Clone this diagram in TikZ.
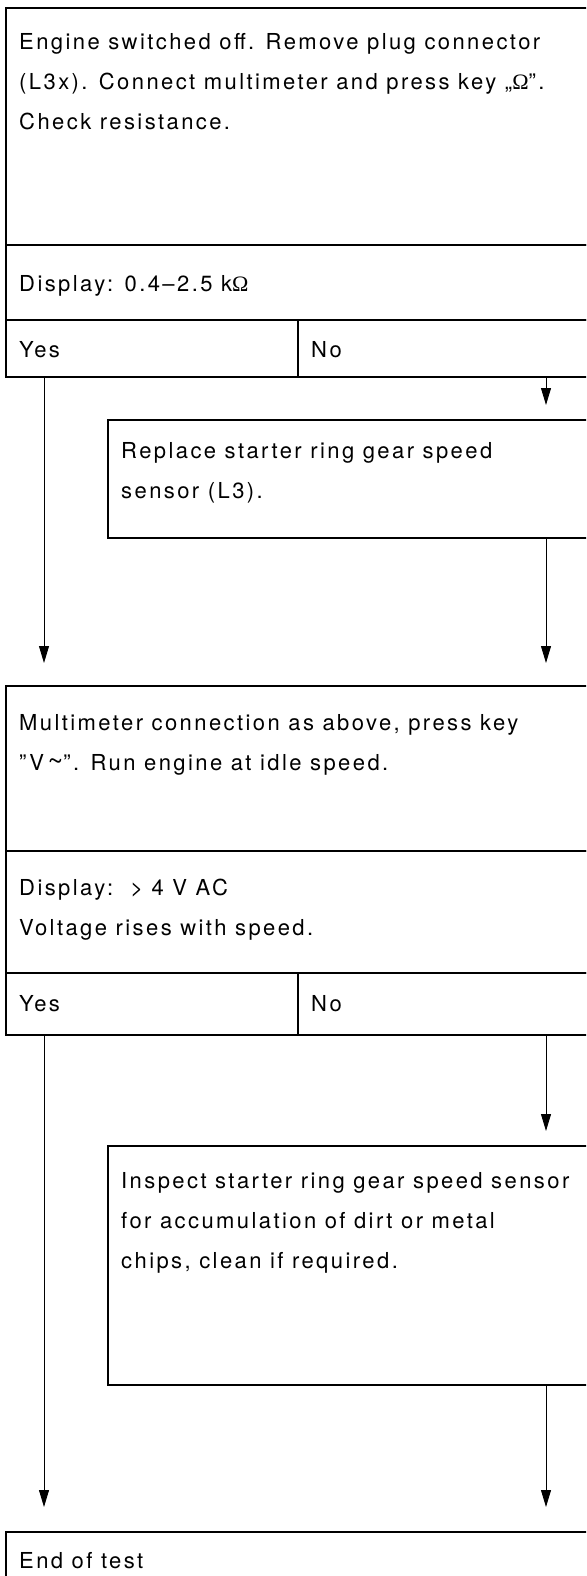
\documentclass[tikz,border=0pt]{standalone}
\usepackage{fontspec}
\setmainfont{TeX Gyre Heros}[LetterSpace=11]
\newfontfamily\omfont{Liberation Serif}
\usetikzlibrary{arrows.meta}
\newcommand{\txtlines}[1]{\begin{tabular}[t]{@{}l@{}}#1\end{tabular}}
\newcommand{\bigtilde}{{\fontsize{27pt}{27pt}\selectfont\textasciitilde}}
\tikzset{
  boxpart/.style={draw=black, line width=1.2pt, anchor=north west, inner sep=0pt, outer sep=0pt, minimum width=594pt},
  txt/.style={anchor=base west, inner sep=0pt, font=\fontsize{22pt}{40pt}\selectfont},
  arr/.style={draw=black, line width=0.9pt, -{Triangle[width=10pt,length=17pt]}},
}
\begin{document}
\begin{tikzpicture}[x=1pt,y=-1pt]
\useasboundingbox (0,0) rectangle (586,1576);
\clip (0,0) rectangle (586,1576);
% block 1
\node[boxpart, minimum height=237pt] (b1a) at (6,8) {};
\node[boxpart, minimum height=75pt] (b1b) at (6,245) {};
\node[boxpart, minimum height=57pt, minimum width=292pt] (b1y) at (6,320) {};
\node[boxpart, minimum height=57pt, minimum width=302pt] (b1n) at (298,320) {};
\node[txt] (t1a) at ([shift={(13pt,-42pt)}]b1a.north west) {\txtlines{Engine switched off. Remove plug connector\\(L3x). Connect multimeter and press key „{\omfont Ω}”.\\Check resistance.}};
\node[txt] (t1b) at ([shift={(13pt,-46pt)}]b1b.north west) {Display: 0.4–2.5 k{\omfont Ω}};
\node[txt] (t1y) at ([shift={(13pt,-37pt)}]b1y.north west) {Yes};
\node[txt] (t1n) at ([shift={(13pt,-37pt)}]b1n.north west) {No};
% block 2
\node[boxpart, minimum height=118pt, minimum width=492pt] (b2) at (108,420) {};
\node[txt] (t2) at ([shift={(13pt,-38pt)}]b2.north west) {\txtlines{Replace starter ring gear speed\\sensor (L3).}};
% block 3
\node[boxpart, minimum height=165pt] (b3a) at (6,686) {};
\node[boxpart, minimum height=122pt] (b3b) at (6,851) {};
\node[boxpart, minimum height=62pt, minimum width=292pt] (b3y) at (6,973) {};
\node[boxpart, minimum height=62pt, minimum width=302pt] (b3n) at (298,973) {};
\node[txt] (t3a) at ([shift={(13pt,-44pt)}]b3a.north west) {\txtlines{Multimeter connection as above, press key\\"V\,\bigtilde". Run engine at idle speed.}};
\node[txt] (t3b) at ([shift={(13pt,-44pt)}]b3b.north west) {\txtlines{Display:\ \ > 4 V AC\\Voltage rises with speed.}};
\node[txt] (t3y) at ([shift={(13pt,-38pt)}]b3y.north west) {Yes};
\node[txt] (t3n) at ([shift={(13pt,-38pt)}]b3n.north west) {No};
% block 4
\node[boxpart, minimum height=239pt, minimum width=492pt] (b4) at (108,1146) {};
\node[txt] (t4) at ([shift={(13pt,-42pt)}]b4.north west) {\txtlines{Inspect starter ring gear speed sensor\\for accumulation of dirt or metal\\chips, clean if required.}};
% end
\node[boxpart, minimum height=80pt] (b5) at (6,1532) {};
\node[txt] (t5) at ([shift={(13pt,-36pt)}]b5.north west) {End of test};
% connectors
\coordinate (s1y) at ([xshift=38pt]b1y.south west);
\coordinate (s1n) at ([xshift=248pt]b1n.south west);
\coordinate (s2) at ([xshift=438pt]b2.south west);
\coordinate (s3y) at ([xshift=38pt]b3y.south west);
\coordinate (s3n) at ([xshift=248pt]b3n.south west);
\coordinate (s4) at ([xshift=438pt]b4.south west);
\draw[arr, shorten >=15pt] (s1n) -- (s1n |- b2.north);
\draw[arr, shorten >=23pt] (s1y) -- (s1y |- b3a.north);
\draw[arr, shorten >=23pt] (s2) -- (s2 |- b3a.north);
\draw[arr, shorten >=15pt] (s3n) -- (s3n |- b4.north);
\draw[arr, shorten >=25pt] (s3y) -- (s3y |- b5.north);
\draw[arr, shorten >=25pt] (s4) -- (s4 |- b5.north);
\end{tikzpicture}
\end{document}
